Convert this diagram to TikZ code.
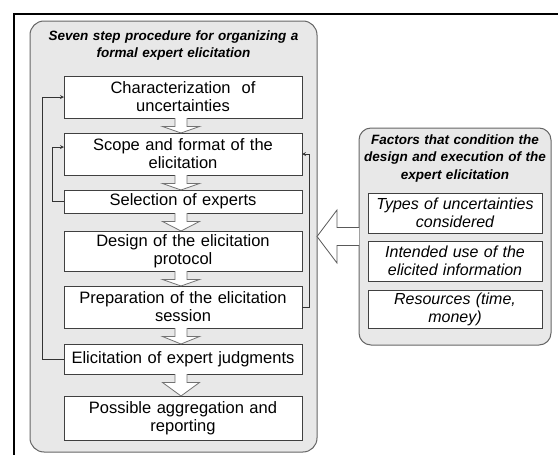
\documentclass[tikz,border=0pt]{standalone}
\usepackage{fontspec}
\setmainfont{Liberation Sans}
\usetikzlibrary{calc}

\begin{document}
\begin{tikzpicture}[x=1pt,y=-1pt,>=stealth,
  panel/.style={draw=black!60,fill=black!9,line width=1pt,rounded corners=14pt,inner sep=0pt,outer sep=0pt},
  stepbox/.style={draw=black!75,fill=white,line width=1pt,minimum width=238pt,text width=228pt,align=center,inner sep=0pt,outer sep=0pt,font=\fontsize{16.5}{18}\selectfont},
  factorbox/.style={draw=black!75,fill=white,line width=1pt,minimum width=174pt,text width=168pt,align=center,inner sep=0pt,outer sep=0pt,font=\itshape\fontsize{16}{18}\selectfont},
  paneltitle/.style={anchor=north,align=center,inner sep=0pt,font=\bfseries\itshape\fontsize{13.5}{17.5}\selectfont},
  blockarrow/.style={draw=black!55,fill=white,line width=0.8pt},
  feedback/.style={->,draw=black!80,line width=0.8pt}]
\useasboundingbox (0,0) rectangle (558,455);
% page frame (top and left edge only)
\draw[line width=2pt] (14,455) -- (14,14) -- (558,14);
% panels
\node[panel,minimum width=287pt,minimum height=431pt] (steps) at (173.5,236.5) {};
\node[panel,minimum width=192pt,minimum height=217pt,rounded corners=12pt] (factors) at (455,236.5) {};
\node[paneltitle,text width=280pt] (stepstitle) at (173.5,30.5) {Seven step procedure for organizing a\\formal expert elicitation};
\node[paneltitle,text width=190pt] (factorstitle) at (455,134.5) {Factors that condition the\\design and execution of the\\expert elicitation};
% the seven steps
\node[stepbox,minimum height=42pt] (step1) at (183,97) {Characterization\ \ of\\uncertainties};
\node[stepbox,minimum height=42pt] (step2) at (183,154) {Scope and format of the\\elicitation};
\node[stepbox,minimum height=23pt] (step3) at (183,201.5) {Selection of experts};
\node[stepbox,minimum height=40pt] (step4) at (183,251) {Design of the elicitation\\protocol};
\node[stepbox,minimum height=42pt] (step5) at (183,307) {Preparation of the elicitation\\session};
\node[stepbox,minimum height=30pt] (step6) at (183,359) {Elicitation of expert judgments};
\node[stepbox,minimum height=44pt] (step7) at (183,418) {Possible aggregation and\\reporting};
% the factors
\node[factorbox,minimum height=40pt] (factor1) at (455,213) {Types of uncertainties\\considered};
\node[factorbox,minimum height=40pt] (factor2) at (455,261) {Intended use of the\\elicited information};
\node[factorbox,minimum height=38pt] (factor3) at (455,309) {Resources (time,\\money)};
% block arrows between steps
\foreach \a/\b in {step1/step2,step2/step3,step3/step4,step4/step5,step5/step6,step6/step7}
  \draw[blockarrow] let \p1=($(\a.south)+(-2,0)$), \p2=(\b.north) in
    (\x1-6pt,\y1) -- (\x1-6pt,\y1-8.5pt) -- (\x1-18.5pt,\y1-8.5pt) -- (\x1,\y2)
    -- (\x1+18.5pt,\y1-8.5pt) -- (\x1+6pt,\y1-8.5pt) -- (\x1+6pt,\y1);
% big arrow from factors to steps
\draw[blockarrow,draw=black!65] let \p1=(factors.west), \p2=(steps.east) in
  (\x1,\y1+9pt) -- (\x2+20pt,\y1+9pt) -- (\x2+20pt,\y1+26.5pt) -- (\x2,\y2)
  -- (\x2+20pt,\y1-26.5pt) -- (\x2+20pt,\y1-9pt) -- (\x1,\y1-9pt);
% feedback loops
\draw[feedback] (step6.west) -- ++(-22,0) |- (step1.west);
\draw[feedback] (step3.west) -- ++(-12,0) |- ($(step2.west)+(0,-7)$);
\draw[feedback] (step5.east) -- ++(7,0) |- (step2.east);
\end{tikzpicture}
\end{document}
